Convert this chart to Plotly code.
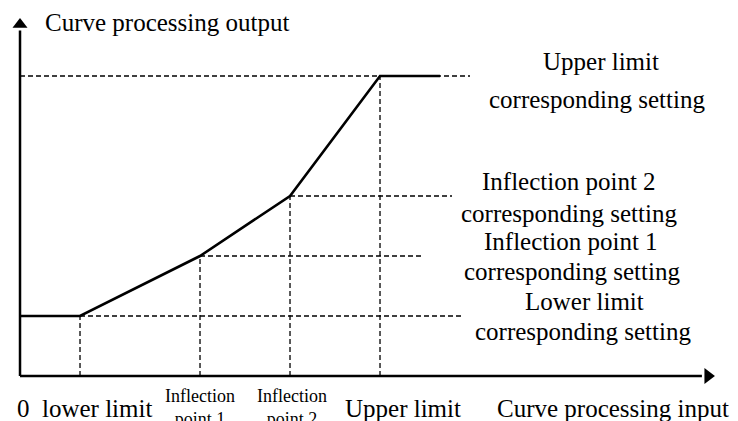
import plotly.graph_objects as go

# Piecewise transfer curve: input value -> processed output
curve_x = [0, 2, 6, 9, 12, 14]
curve_y = [2, 2, 4, 6, 10, 10]

# Breakpoints on the input axis (lower limit, inflection 1, inflection 2, upper limit)
break_x = [2, 6, 9, 12]
break_y = [2, 4, 6, 10]

# Horizontal guide lines for each output setting: start and end on the input scale
guide_y = [2, 4, 6, 10]
guide_start = [2, 6, 9, 0]
guide_end = [14.7, 13.43, 14.4, 15.0]

# Axis extents (arrow tips)
x_axis_end = 22.93
y_axis_end = 11.72

# Labels
output_title = "Curve processing output"
input_title = "Curve processing input"
setting_labels = [
    ("Upper limit", 19.37, 10.47),
    ("corresponding setting", 19.23, 9.2),
    ("Inflection point 2", 18.3, 6.47),
    ("corresponding setting", 18.3, 5.43),
    ("Inflection point 1", 18.37, 4.47),
    ("corresponding setting", 18.4, 3.47),
    ("Lower limit", 18.83, 2.47),
    ("corresponding setting", 18.77, 1.47),
]
input_labels = [
    ("0", 0.1, -1.07),
    ("lower limit", 2.57, -1.07),
    ("Upper limit", 12.77, -1.07),
    (input_title, 19.77, -1.07),
]
small_input_labels = [
    ("Inflection<br>point 1", 6.0, -0.27),
    ("Inflection<br>point 2", 9.07, -0.27),
]

FONT = "Liberation Serif, Times New Roman, serif"

fig = go.Figure()

# Dashed guides: horizontals for output settings
hx, hy = [], []
for y, x0, x1 in zip(guide_y, guide_start, guide_end):
    hx += [x0, x1, None]
    hy += [y, y, None]
# Dashed guides: verticals from each breakpoint down to the input axis
for x, y in zip(break_x, break_y):
    hx += [x, x, None]
    hy += [0, y, None]
fig.add_trace(go.Scatter(
    x=hx, y=hy, mode="lines",
    line=dict(color="black", width=1.3, dash="5px,3px"),
    hoverinfo="skip", showlegend=False,
))

# Axes
fig.add_trace(go.Scatter(
    x=[0, x_axis_end - 0.2, None, 0, 0], y=[0, 0, None, 0, y_axis_end - 0.2],
    mode="lines", line=dict(color="black", width=2.5),
    hoverinfo="skip", showlegend=False,
))
fig.add_trace(go.Scatter(
    x=[x_axis_end], y=[0], mode="markers",
    marker=dict(symbol="triangle-right", size=14, color="black", line=dict(width=0)),
    hoverinfo="skip", showlegend=False,
))
fig.add_trace(go.Scatter(
    x=[0], y=[y_axis_end], mode="markers",
    marker=dict(symbol="triangle-up", size=13, color="black", line=dict(width=0)),
    hoverinfo="skip", showlegend=False,
))

# Transfer curve
fig.add_trace(go.Scatter(
    x=curve_x, y=curve_y, mode="lines",
    line=dict(color="black", width=2.6),
    hoverinfo="skip", showlegend=False,
))

annotations = [dict(text=output_title, x=4.9, y=11.77, size=25, ya="middle")]
annotations += [dict(text=t, x=x, y=y, size=25, ya="middle") for t, x, y in setting_labels]
annotations += [dict(text=t, x=x, y=y, size=25, ya="middle") for t, x, y in input_labels]
annotations += [dict(text=t, x=x, y=y, size=18, ya="top") for t, x, y in small_input_labels]

fig.update_layout(
    width=738, height=421,
    margin=dict(l=0, r=0, t=0, b=0),
    paper_bgcolor="white", plot_bgcolor="white",
    xaxis=dict(range=[-0.667, 23.933], visible=False, fixedrange=True),
    yaxis=dict(range=[-1.5, 12.533], visible=False, fixedrange=True),
    annotations=[
        dict(text=a["text"], x=a["x"], y=a["y"], xref="x", yref="y",
             showarrow=False, xanchor="center", yanchor=a["ya"],
             font=dict(family=FONT, size=a["size"], color="black"))
        for a in annotations
    ],
)

fig.write_html("out.html")
